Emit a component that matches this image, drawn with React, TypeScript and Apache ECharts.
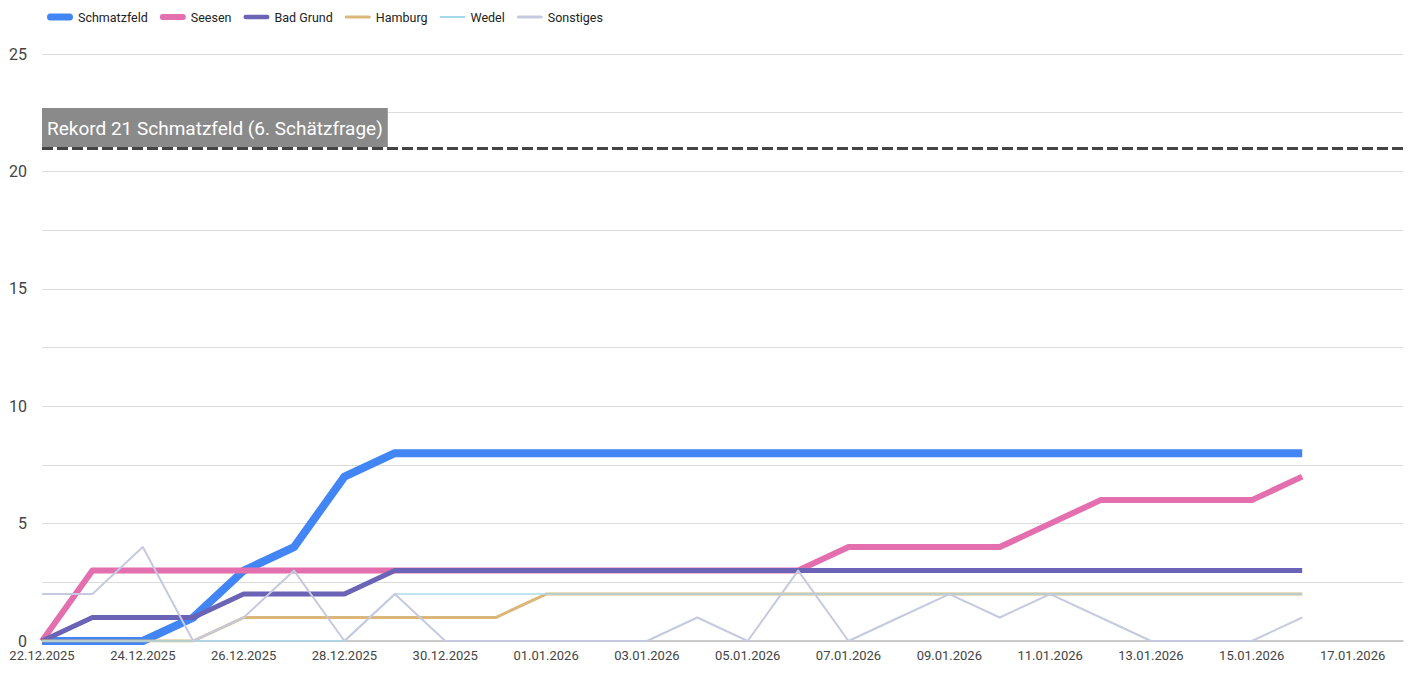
import React, { useEffect, useRef } from "react";
import * as echarts from "echarts";

const dates = [
  "22.12.2025", "23.12.2025", "24.12.2025", "25.12.2025", "26.12.2025", "27.12.2025", "28.12.2025",
  "29.12.2025", "30.12.2025", "31.12.2025", "01.01.2026", "02.01.2026", "03.01.2026", "04.01.2026",
  "05.01.2026", "06.01.2026", "07.01.2026", "08.01.2026", "09.01.2026", "10.01.2026", "11.01.2026",
  "12.01.2026", "13.01.2026", "14.01.2026", "15.01.2026", "16.01.2026", "17.01.2026", "18.01.2026",
];

const schmatzfeld = [0, 0, 0, 1, 3, 4, 7, 8, 8, 8, 8, 8, 8, 8, 8, 8, 8, 8, 8, 8, 8, 8, 8, 8, 8, 8];
const seesen = [0, 3, 3, 3, 3, 3, 3, 3, 3, 3, 3, 3, 3, 3, 3, 3, 4, 4, 4, 4, 5, 6, 6, 6, 6, 7];
const badGrund = [0, 1, 1, 1, 2, 2, 2, 3, 3, 3, 3, 3, 3, 3, 3, 3, 3, 3, 3, 3, 3, 3, 3, 3, 3, 3];
const hamburg = [0, 0, 0, 0, 1, 1, 1, 1, 1, 1, 2, 2, 2, 2, 2, 2, 2, 2, 2, 2, 2, 2, 2, 2, 2, 2];
const wedel = [0, 0, 0, 0, 0, 0, 0, 2, 2, 2, 2, 2, 2, 2, 2, 2, 2, 2, 2, 2, 2, 2, 2, 2, 2, 2];
const sonstiges = [2, 2, 4, 0, 1, 3, 0, 2, 0, 0, 0, 0, 0, 1, 0, 3, 0, 1, 2, 1, 2, 1, 0, 0, 0, 1];

const recordValue = 21;
const recordLabel = "Rekord 21 Schmatzfeld (6. Schätzfrage)";

const FONT = "Roboto, Arial, sans-serif";

// legend icon: rounded bar of thickness t inside a 26x16 frame
const iconW = 26;
const iconH = 16;
function barIcon(t: number): string {
  const r = t / 2;
  const cy = iconH / 2;
  return (
    "path://" +
    `M0,0 L0.01,0 L0.01,0.01 L0,0.01 Z ` +
    `M${iconW - 0.01},${iconH - 0.01} L${iconW},${iconH - 0.01} L${iconW},${iconH} L${iconW - 0.01},${iconH} Z ` +
    `M${r},${cy - r} L${iconW - r},${cy - r} A${r},${r} 0 0 1 ${iconW - r},${cy + r} L${r},${cy + r} A${r},${r} 0 0 1 ${r},${cy - r} Z`
  );
}

export default function App() {
  const ref = useRef<HTMLDivElement>(null);

  useEffect(() => {
    if (!ref.current) return;
    const chart = echarts.init(ref.current, undefined, { renderer: "svg" });

    const mk = (name: string, data: number[], color: string, width: number, extra: any = {}) => ({
      name,
      type: "line",
      data,
      symbol: "none",
      showSymbol: false,
      color,
      lineStyle: { color, width, join: "round" },
      emphasis: { disabled: true },
      ...extra,
    });

    chart.setOption({
      animation: false,
      textStyle: { fontFamily: FONT },
      legend: {
        left: 42,
        top: 4,
        itemWidth: iconW,
        itemHeight: iconH,
        itemGap: 12,
        itemStyle: { borderWidth: 0 },
        textStyle: { fontSize: 12.5, color: "#222", fontFamily: FONT },
        data: [
          { name: "Schmatzfeld", icon: barIcon(7) },
          { name: "Seesen", icon: barIcon(6) },
          { name: "Bad Grund", icon: barIcon(4.5) },
          { name: "Hamburg", icon: barIcon(3) },
          { name: "Wedel", icon: barIcon(2) },
          { name: "Sonstiges", icon: barIcon(3) },
        ],
      },
      grid: { left: 42, right: 10, top: 54, bottom: 32, containLabel: false },
      xAxis: {
        type: "category",
        data: dates,
        boundaryGap: false,
        axisLine: { show: true, lineStyle: { color: "#bdbdbd", width: 1.5 } },
        axisTick: { show: false },
        splitLine: { show: false },
        axisLabel: {
          interval: 1,
          fontSize: 13,
          color: "#444",
          margin: 8,
          fontFamily: FONT,
          formatter: (v: string, i: number) => (i === dates.length - 1 ? "" : v),
        },
      },
      yAxis: {
        type: "value",
        min: 0,
        max: 25,
        interval: 2.5,
        axisLine: { show: false },
        axisTick: { show: false },
        splitLine: { lineStyle: { color: "#dcdcdc", width: 1 } },
        axisLabel: {
          fontSize: 16,
          color: "#444",
          margin: 15,
          fontFamily: FONT,
          formatter: (v: number) => (v % 5 === 0 ? String(v) : ""),
        },
      },
      series: [
        mk("Schmatzfeld", schmatzfeld, "#4285f4", 8, {
          markLine: {
            silent: true,
            symbol: "none",
            animation: false,
            lineStyle: { color: "#444", width: 3, type: [11, 4] },
            label: {
              show: true,
              position: "insideStartTop",
              formatter: recordLabel,
              backgroundColor: "#8a8a8a",
              color: "#fff",
              fontSize: 19,
              fontFamily: FONT,
              padding: [11, 5, 9, 5],
              distance: [0, 1],
            },
            data: [{ yAxis: recordValue }],
          },
        }),
        mk("Seesen", seesen, "#e36fae", 6),
        mk("Bad Grund", badGrund, "#6a63b6", 5),
        mk("Hamburg", hamburg, "#dcb77c", 3),
        mk("Wedel", wedel, "#a6d8ec", 2, { lineStyle: { color: "#a6d8ec", width: 2, opacity: 0.7 } }),
        mk("Sonstiges", sonstiges, "#c5cae0", 2),
      ],
    });

    return () => chart.dispose();
  }, []);

  return <div ref={ref} style={{ width: 1413, height: 673, margin: -8 }} />;
}
